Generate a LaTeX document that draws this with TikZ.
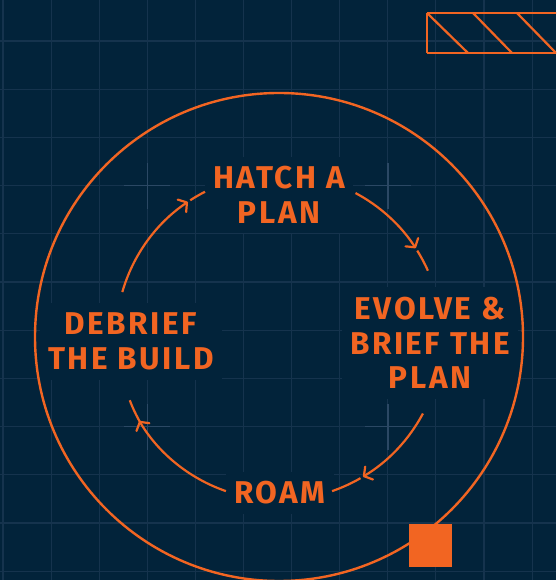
\documentclass[tikz,border=0pt]{standalone}
\usepackage{fontspec}
\setmainfont{Fira Sans}[UprightFont=* Bold, LetterSpace=8]
\usetikzlibrary{arrows.meta}
\definecolor{bg}{HTML}{02233A}
\definecolor{gridc}{HTML}{15334D}
\definecolor{crossc}{HTML}{2B4864}
\definecolor{org}{HTML}{F26522}
\tikzset{
  label/.style={text=org, font=\fontsize{31.5}{34.5}\selectfont, align=center, fill=bg, inner xsep=8pt, inner ysep=10pt},
  ring/.style={draw=org, line width=2.4pt},
  flow/.style={draw=org, line width=2.2pt},
  tipped/.style={flow, -{Straight Barb[length=6pt,width=15pt,line width=2.2pt,round]}},
  gridline/.style={draw=gridc, line width=1.1pt},
  crossline/.style={draw=crossc, line width=1.6pt},
}
\begin{document}
\begin{tikzpicture}[x=1pt,y=1pt]
\useasboundingbox (0,0) rectangle (556,580);
\fill[bg] (0,0) rectangle (556,580);
% grid
\foreach \k in {0,...,11} {
  \draw[gridline] ({3+48.1*\k},0) -- ({3+48.1*\k},580);
  \draw[gridline] (0,{580-41-48.2*\k}) -- (556,{580-41-48.2*\k});
}
% crosses
\foreach \cx/\cy in {147.3/394.4, 387.8/394.4, 147.3/153.4, 387.8/153.4} {
  \draw[crossline] (\cx-23,\cy) -- (\cx+23,\cy);
  \draw[crossline] (\cx,\cy-23) -- (\cx,\cy+23);
}
% labels
\node[label] (hatch) at (279,385) {HATCH A\\PLAN};
\node[label] (evolve) at (430,237) {EVOLVE \&\\BRIEF THE\\PLAN};
\node[label] (roam) at (280,87) {ROAM};
\node[label] (debrief) at (131,238.5) {DEBRIEF\\THE BUILD};
% outer ring
\coordinate (c) at (279,243);
\draw[ring] (c) circle[radius=244];
% cycle arcs
\path (c) ++(164:163) coordinate (a1s) (c) ++(123:163) coordinate (a1t)
      (c) ++(62:163) coordinate (a2s) (c) ++(32:163) coordinate (a2t)
      (c) ++(-28:163) coordinate (a3s) (c) ++(-60:163) coordinate (a3t)
      (c) ++(251:163) coordinate (a4s) (c) ++(212:163) coordinate (a4t);
\draw[tipped] (a1s) arc[start angle=164, end angle=124, radius=163];
\draw[flow] (a1t) arc[start angle=123, end angle=117, radius=163];
\draw[tipped] (a2s) arc[start angle=62, end angle=33, radius=163];
\draw[flow] (a2t) arc[start angle=32, end angle=24, radius=163];
\draw[tipped] (a3s) arc[start angle=-28, end angle=-59, radius=163];
\draw[flow] (a3t) arc[start angle=-60, end angle=-71, radius=163];
\draw[tipped] (a4s) arc[start angle=251, end angle=211, radius=163];
\draw[flow] (a4t) arc[start angle=210, end angle=201, radius=163];
% decorations
\begin{scope}
\clip (0,0) rectangle (556,580);
\draw[org, line width=2.4pt] (427,567) -- (600,567) (427,527) -- (600,527) (427,567) -- (427,527);
\draw[org, line width=2.2pt] (427,567) -- (468,527) (473,567) -- (512,527) (517,567) -- (556,527);
\fill[org] (409,13) rectangle (452,56);
\end{scope}
\end{tikzpicture}
\end{document}
